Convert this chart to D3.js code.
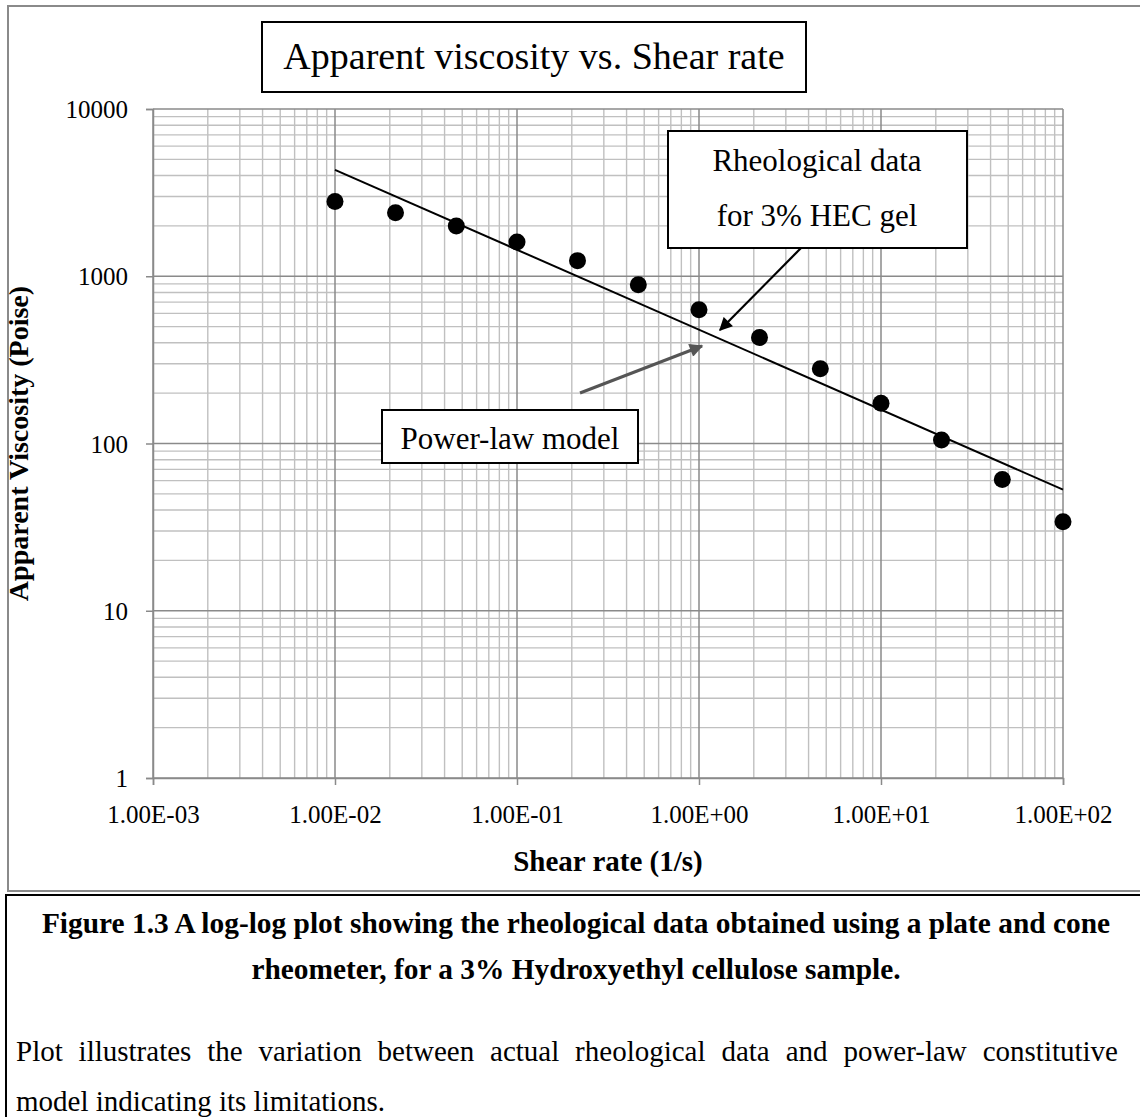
<!DOCTYPE html>
<html>
<head>
<meta charset="utf-8">
<script src="https://cdn.jsdelivr.net/npm/d3@7"></script>
<style>
  body { margin: 0; background: #fff; }
  svg { display: block; }
  text { font-family: "Liberation Serif", "Times New Roman", serif; fill: #000; }
</style>
</head>
<body>
<div id="chart"></div>
<script>
// ---------- data ----------
const shearRate = [0.01, 0.0215, 0.0464, 0.1, 0.215, 0.464, 1, 2.15, 4.64, 10, 21.5, 46.4, 100];
const viscosity = [2800, 2400, 2000, 1600, 1240, 890, 630, 430, 280, 174, 105, 61, 34];
const modelShear = [0.01, 100];
const modelVisc = [4330, 53];
const xTickValues = [1e-3, 1e-2, 1e-1, 1e0, 1e1, 1e2];
const xTickLabels = ["1.00E-03", "1.00E-02", "1.00E-01", "1.00E+00", "1.00E+01", "1.00E+02"];
const yTickValues = [1, 10, 100, 1000, 10000];
const yTickLabels = ["1", "10", "100", "1000", "10000"];
const chartTitle = "Apparent viscosity vs. Shear rate";
const xTitle = "Shear rate  (1/s)";
const yTitle = "Apparent Viscosity (Poise)";
const dataNote = ["Rheological data", "for 3% HEC gel"];
const modelNote = "Power-law model";
const captionBold = ["Figure 1.3 A log-log plot showing the rheological data obtained using a plate and cone",
                     "rheometer, for a 3% Hydroxyethyl cellulose sample."];
const captionText = ["Plot illustrates the variation between actual rheological data and power-law constitutive",
                     "model indicating its limitations."];

// ---------- layout ----------
const W = 1140, H = 1117;
const plot = { left: 153, right: 1063, top: 109, bottom: 778 };

const svg = d3.select("#chart").append("svg").attr("width", W).attr("height", H);

const x = d3.scaleLog().domain([1e-3, 1e2]).range([plot.left, plot.right]);
const y = d3.scaleLog().domain([1, 1e4]).range([plot.bottom, plot.top]);

// outer frames
svg.append("rect").attr("x", 8).attr("y", 6).attr("width", W + 20).attr("height", 885)
  .attr("fill", "none").attr("stroke", "#8a8a8a").attr("stroke-width", 2);
svg.append("rect").attr("x", 6).attr("y", 895).attr("width", W + 20).attr("height", 300)
  .attr("fill", "none").attr("stroke", "#000").attr("stroke-width", 2);

// grid
const minorX = [], minorY = [];
for (let e = -3; e < 2; e++) for (let k = 2; k <= 9; k++) minorX.push(k * Math.pow(10, e));
for (let e = 0; e < 4; e++) for (let k = 2; k <= 9; k++) minorY.push(k * Math.pow(10, e));

const grid = svg.append("g");
grid.selectAll(".mx").data(minorX).join("line")
  .attr("x1", d => x(d)).attr("x2", d => x(d)).attr("y1", plot.top).attr("y2", plot.bottom)
  .attr("stroke", "#c0c0c0").attr("stroke-width", 1.4);
grid.selectAll(".my").data(minorY).join("line")
  .attr("y1", d => y(d)).attr("y2", d => y(d)).attr("x1", plot.left).attr("x2", plot.right)
  .attr("stroke", "#c0c0c0").attr("stroke-width", 1.4);
grid.selectAll(".Mx").data(xTickValues).join("line")
  .attr("x1", d => x(d)).attr("x2", d => x(d)).attr("y1", plot.top).attr("y2", plot.bottom)
  .attr("stroke", "#8a8a8a").attr("stroke-width", 1.5);
grid.selectAll(".My").data(yTickValues).join("line")
  .attr("y1", d => y(d)).attr("y2", d => y(d)).attr("x1", plot.left).attr("x2", plot.right)
  .attr("stroke", "#8a8a8a").attr("stroke-width", 1.5);

// axes
const xAxis = svg.append("g").attr("transform", `translate(0,${plot.bottom})`)
  .call(d3.axisBottom(x).tickValues(xTickValues).tickFormat((d, i) => xTickLabels[i]).tickSize(7).tickPadding(20));
const yAxis = svg.append("g").attr("transform", `translate(${plot.left},0)`)
  .call(d3.axisLeft(y).tickValues(yTickValues).tickFormat((d, i) => yTickLabels[i]).tickSize(7).tickPadding(18));
[xAxis, yAxis].forEach(a => {
  a.select(".domain").attr("stroke", "#8a8a8a").attr("stroke-width", 1.5);
  a.selectAll(".tick line").attr("stroke", "#8a8a8a").attr("stroke-width", 1.5);
  a.selectAll(".tick text").attr("font-family", "Liberation Serif, Times New Roman, serif")
    .attr("font-size", 25).attr("fill", "#000");
});
yAxis.selectAll(".tick text").attr("dy", "0.34em");

// model line
const line = d3.line().x(d => x(d[0])).y(d => y(d[1]));
svg.append("path").datum(modelShear.map((s, i) => [s, modelVisc[i]]))
  .attr("d", line).attr("fill", "none").attr("stroke", "#000").attr("stroke-width", 2);

// data points
svg.append("g").selectAll("circle").data(shearRate.map((s, i) => [s, viscosity[i]])).join("circle")
  .attr("cx", d => x(d[0])).attr("cy", d => y(d[1])).attr("r", 8.5).attr("fill", "#000");

// title box
svg.append("rect").attr("x", 262).attr("y", 22).attr("width", 544).attr("height", 70)
  .attr("fill", "#fff").attr("stroke", "#000").attr("stroke-width", 2);
svg.append("text").attr("x", 534).attr("y", 69).attr("text-anchor", "middle")
  .attr("font-size", 38).text(chartTitle);

// axis titles
svg.append("text").attr("x", (plot.left + plot.right) / 2).attr("y", 871).attr("text-anchor", "middle")
  .attr("font-size", 29).attr("font-weight", "bold").text(xTitle);
svg.append("text").attr("transform", `translate(28,${(plot.top + plot.bottom) / 2}) rotate(-90)`)
  .attr("text-anchor", "middle").attr("font-size", 28).attr("font-weight", "bold").text(yTitle);

// arrow markers
const defs = svg.append("defs");
function marker(id, color, w, h) {
  defs.append("marker").attr("id", id).attr("viewBox", "0 0 10 10").attr("refX", 9).attr("refY", 5)
    .attr("markerWidth", w).attr("markerHeight", h).attr("markerUnits", "strokeWidth").attr("orient", "auto")
    .append("path").attr("d", "M0,0 L10,5 L0,10 Z").attr("fill", color);
}
marker("ah-black", "#000", 6.5, 6);
marker("ah-gray", "#555", 5, 4.5);

// data note box + arrow
svg.append("line").attr("x1", 801).attr("y1", 248).attr("x2", 720).attr("y2", 330)
  .attr("stroke", "#000").attr("stroke-width", 2.2).attr("marker-end", "url(#ah-black)");
svg.append("rect").attr("x", 668).attr("y", 131).attr("width", 299).attr("height", 117)
  .attr("fill", "#fff").attr("stroke", "#000").attr("stroke-width", 2);
svg.selectAll(".dn").data(dataNote).join("text")
  .attr("x", 817).attr("y", (d, i) => 171 + i * 55).attr("text-anchor", "middle")
  .attr("font-size", 31).text(d => d);

// model note box + arrow
svg.append("line").attr("x1", 580).attr("y1", 393).attr("x2", 702).attr("y2", 346)
  .attr("stroke", "#555").attr("stroke-width", 3).attr("marker-end", "url(#ah-gray)");
svg.append("rect").attr("x", 382).attr("y", 410).attr("width", 256).attr("height", 53)
  .attr("fill", "#fff").attr("stroke", "#000").attr("stroke-width", 2);
svg.append("text").attr("x", 510).attr("y", 449).attr("text-anchor", "middle")
  .attr("font-size", 31).text(modelNote);

// caption
svg.selectAll(".cb").data(captionBold).join("text")
  .attr("x", 576).attr("y", (d, i) => 933 + i * 46).attr("text-anchor", "middle")
  .attr("font-size", 29.4).attr("font-weight", "bold").text(d => d);

// justified paragraph (first line justified, last line left)
const paraLeft = 16, paraRight = 1118, paraSize = 29;
captionText.forEach((ln, li) => {
  const yy = 1061 + li * 50;
  if (li === captionText.length - 1) {
    svg.append("text").attr("x", paraLeft).attr("y", yy).attr("font-size", paraSize).text(ln);
    return;
  }
  const words = ln.split(" ");
  const tmp = words.map(w => svg.append("text").attr("font-size", paraSize).attr("y", yy).text(w));
  const widths = tmp.map(t => t.node().getComputedTextLength());
  const total = d3.sum(widths);
  const gap = (paraRight - paraLeft - total) / (words.length - 1);
  let cx = paraLeft;
  tmp.forEach((t, i) => { t.attr("x", cx); cx += widths[i] + gap; });
});
</script>
</body>
</html>
